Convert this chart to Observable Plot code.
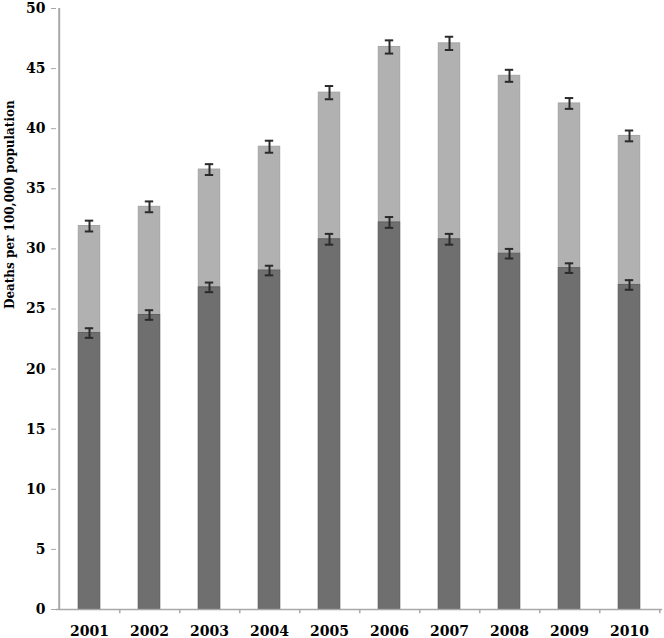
<!DOCTYPE html>
<html><head><meta charset="utf-8">
<script src="https://cdn.jsdelivr.net/npm/d3@7"></script>
<script src="https://cdn.jsdelivr.net/npm/@observablehq/plot@0.6"></script>
<style>body{margin:0;background:#fff}</style>
</head><body><div id="chart"></div>
<script>
const years = ["2001","2002","2003","2004","2005","2006","2007","2008","2009","2010"];
const totalRate = [31.9, 33.5, 36.6, 38.5, 43.0, 46.8, 47.1, 44.4, 42.1, 39.4];
const baseRate = [23.0, 24.5, 26.8, 28.2, 30.8, 32.2, 30.8, 29.6, 28.4, 27.0];
const totalErr = [0.45, 0.45, 0.45, 0.5, 0.55, 0.55, 0.55, 0.5, 0.45, 0.45];
const baseErr = [0.4, 0.4, 0.4, 0.4, 0.45, 0.45, 0.45, 0.4, 0.4, 0.4];
const yTicks = [0,5,10,15,20,25,30,35,40,45,50];
const yLabel = "Deaths per 100,000 population";

const rows = years.map((y,i)=>({year:y,total:totalRate[i],base:baseRate[i],te:totalErr[i],be:baseErr[i]}));
const W = 664, ML = 56, MR = 2;
const band = (W-ML-MR)/years.length;
const barInset = (band-22)/2;
const capInset = (band-9)/2;
const font = "'DejaVu Serif', serif";

const chart = Plot.plot({
  width: W, height: 638,
  marginLeft: ML, marginRight: MR, marginTop: 8, marginBottom: 29,
  style: {fontFamily: font, fontWeight: "bold", fontSize: "13px", color: "#000", background: "#fff"},
  x: {domain: years, padding: 0, axis: null},
  y: {domain: [0,50], ticks: yTicks, axis: null},
  marks: [
    Plot.barY(rows, {x:"year", y1:0, y2:"total", fill:"#b1b1b1", stroke:"#a4a4a4", strokeWidth:1, insetLeft:barInset, insetRight:barInset}),
    Plot.barY(rows, {x:"year", y1:0, y2:"base", fill:"#6f6f6f", stroke:"#626262", strokeWidth:1, insetLeft:barInset, insetRight:barInset}),
    Plot.ruleX(rows, {x:"year", y1:d=>d.total-d.te, y2:d=>d.total+d.te, stroke:"#2a2a2a", strokeWidth:2}),
    Plot.tickY(rows, {x:"year", y:d=>d.total-d.te, stroke:"#2a2a2a", strokeWidth:2, insetLeft:capInset, insetRight:capInset}),
    Plot.tickY(rows, {x:"year", y:d=>d.total+d.te, stroke:"#2a2a2a", strokeWidth:2, insetLeft:capInset, insetRight:capInset}),
    Plot.ruleX(rows, {x:"year", y1:d=>d.base-d.be, y2:d=>d.base+d.be, stroke:"#2a2a2a", strokeWidth:2}),
    Plot.tickY(rows, {x:"year", y:d=>d.base-d.be, stroke:"#2a2a2a", strokeWidth:2, insetLeft:capInset, insetRight:capInset}),
    Plot.tickY(rows, {x:"year", y:d=>d.base+d.be, stroke:"#2a2a2a", strokeWidth:2, insetLeft:capInset, insetRight:capInset}),
    Plot.ruleY([0], {stroke:"#a8a8a8", strokeWidth:1.5}),
    Plot.ruleX([years[0]], {y1:0, y2:50, dx:-band/2, stroke:"#a8a8a8", strokeWidth:2}),
    Plot.ruleX(years, {y1:-0.35, y2:0, dx:band/2, stroke:"#a8a8a8", strokeWidth:1.5}),
    Plot.axisY({ticks: yTicks, tickSize: 5, stroke:"#a8a8a8", label: null, tickPadding: 6, fontSize: 14, fontWeight:"bold", fill:"#000"}),
    Plot.axisX({tickSize: 0, label: null, tickPadding: 17, fontSize: 14, fontWeight:"bold", fill:"#000"}),
    Plot.text([yLabel], {frameAnchor:"left", rotate:-90, dx:-46, fontSize:12, fontWeight:"bold", fill:"#000"})
  ]
});
document.getElementById("chart").appendChild(chart);
</script>
</body></html>
